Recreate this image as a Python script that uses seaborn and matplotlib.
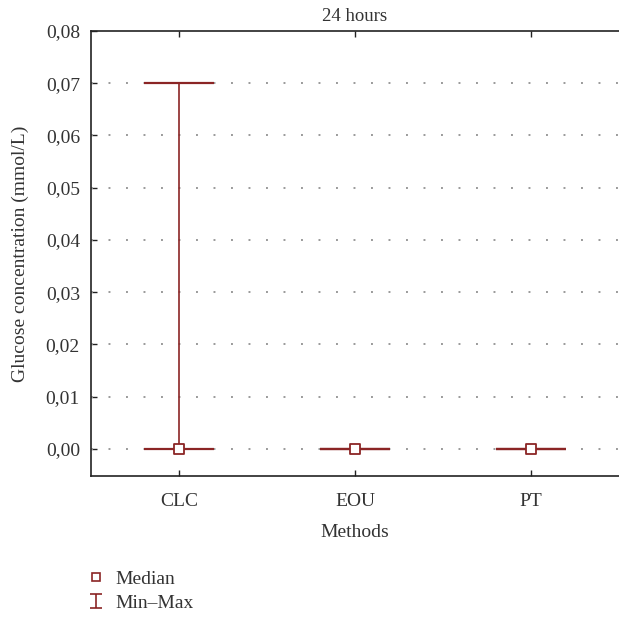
import numpy as np
import pandas as pd
import matplotlib
matplotlib.use('Agg')
import matplotlib.pyplot as plt
import matplotlib.ticker as mticker
from matplotlib.lines import Line2D
from matplotlib.path import Path
import seaborn as sns

# Data (24 hours)
methods = ['CLC', 'EOU', 'PT']
median_vals = [0.0, 0.0, 0.0]
min_vals = [0.0, 0.0, 0.0]
max_vals = [0.07, 0.0, 0.0]
y_ticks = [0.0, 0.01, 0.02, 0.03, 0.04, 0.05, 0.06, 0.07, 0.08]

df = pd.DataFrame({'Methods': methods, 'median': median_vals,
                   'min': min_vals, 'max': max_vals})
df['pos'] = np.arange(len(df))

sns.set_style('white')
plt.rcParams['font.family'] = ['Liberation Serif', 'DejaVu Serif']
plt.rcParams['font.size'] = 14

red = '#8b2525'
txt = '#333333'

fig = plt.figure(figsize=(6.19, 6.18), dpi=100)
ax = fig.add_axes([0.147, 0.2298, 0.853, 0.72])

# Min-Max whiskers
ax.errorbar(df['pos'], df['median'],
            yerr=[df['median'] - df['min'], df['max'] - df['median']],
            fmt='none', ecolor=red, elinewidth=1.2, capsize=25,
            capthick=1.6, zorder=3)

# Median markers
sns.scatterplot(data=df, x='pos', y='median', ax=ax, marker='s', s=55,
                facecolor='white', edgecolor=red, linewidth=1.3, zorder=4,
                legend=False)

ax.set_xlim(-0.5, 2.5)
ax.set_ylim(-0.0052, 0.08)
ax.set_xticks(df['pos'])
ax.set_xticklabels(methods)
ax.set_yticks(y_ticks)
ax.yaxis.set_major_formatter(mticker.FuncFormatter(lambda v, p: f'{v:.2f}'.replace('.', ',')))

for yv in y_ticks[:-1]:
    ax.axhline(yv, color='#9a9a9a', linestyle=(0, (1, 8)), linewidth=1.4, zorder=1)

for side in ['top', 'left', 'bottom']:
    ax.spines[side].set_color('#222222')
    ax.spines[side].set_linewidth(1.2)
ax.spines['right'].set_visible(False)

ax.tick_params(axis='x', direction='in', top=True, bottom=True, length=4,
               width=1, colors='#222222', labelcolor=txt, pad=12)
ax.tick_params(axis='y', direction='in', left=True, length=4, width=1,
               colors='#222222', labelcolor=txt, pad=8)

ax.set_xlabel('Methods', color=txt, labelpad=10)
ax.set_ylabel('Glucose concentration (mmol/L)', color=txt, labelpad=12)
ax.set_title('24 hours', color=txt, pad=7, fontsize=13.5)

# legend symbols
ibeam = Path([(-0.85, 1), (0.85, 1), (0, 1), (0, -1), (-0.85, -1), (0.85, -1)],
             [Path.MOVETO, Path.LINETO, Path.MOVETO, Path.LINETO,
              Path.MOVETO, Path.LINETO])
h_med = Line2D([], [], linestyle='none', marker='s', markersize=6,
               markerfacecolor='white', markeredgecolor=red, markeredgewidth=1.2)
h_mm = Line2D([], [], linestyle='none', marker=ibeam, markersize=10,
              markerfacecolor='none', markeredgecolor=red, markeredgewidth=1.2)
fig.legend([h_med, h_mm], ['Median', 'Min\u2013Max'], loc='upper left',
           bbox_to_anchor=(0.127, 0.09), frameon=False, handlelength=1.0,
           handletextpad=0.5, labelspacing=0.35, labelcolor=txt,
           borderaxespad=0)

fig.savefig('out.png', dpi=100)
